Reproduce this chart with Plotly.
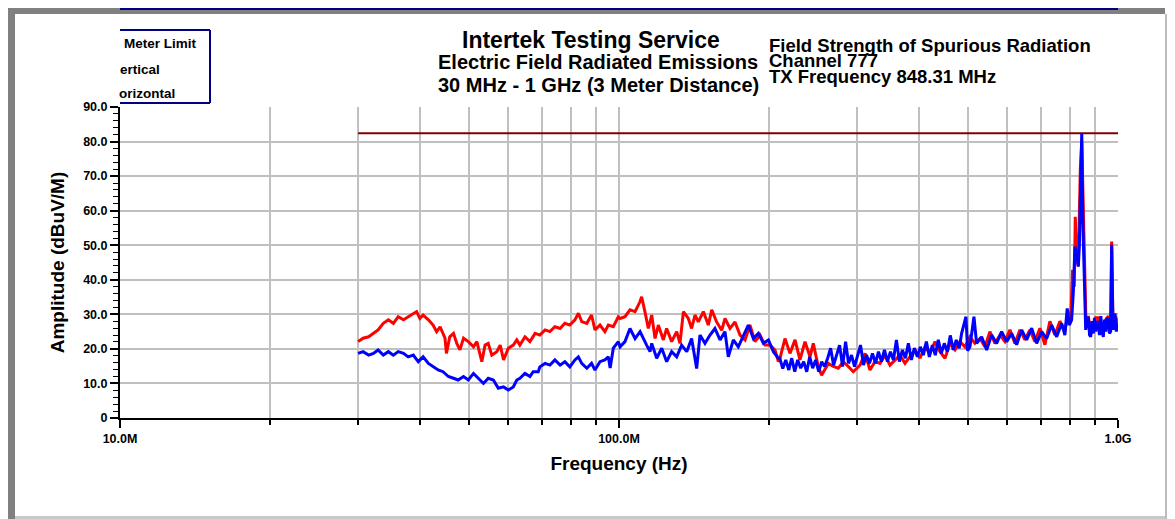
import plotly.graph_objects as go

# ---- data (MHz / dBuV/m) ----
limit_freq_mhz = [30.0, 1000.0]
limit_dbuv = [82.4, 82.4]

vert_freq_mhz = [
    30.0, 30.7, 31.5, 32.2, 32.9, 33.7, 34.5, 35.3, 36.1, 37.0, 37.8, 38.7, 39.3, 39.9, 40.5, 41.5,
    42.4, 43.1, 43.8, 44.8, 45.1, 45.8, 46.6, 47.3, 48.0, 48.8, 49.9, 51.1, 51.9, 53.1, 53.9, 54.7,
    55.6, 56.9, 57.8, 58.7, 60.0, 61.4, 62.4, 63.3, 64.8, 66.3, 67.9, 69.4, 71.1, 72.7, 74.4, 76.2,
    77.9, 79.7, 81.6, 82.9, 84.2, 86.2, 88.1, 89.5, 91.6, 93.7, 95.2, 97.4, 99.7,
    100.5, 102.8, 105.2, 107.7, 110.2, 111.0, 112.7, 114.5, 116.3, 118.1, 119.9, 122.7, 124.6,
    127.5, 130.5, 132.5, 134.6, 137.7, 139.8, 142.0, 144.2, 147.6, 151.0, 153.4, 156.9, 160.6,
    163.1, 166.9, 170.8, 174.8, 178.9, 183.0, 187.3, 191.7, 196.1, 200.7, 205.4, 208.6,
    210.2, 215.1, 220.1, 225.3, 230.5, 235.9, 241.4, 245.1, 250.8, 254.7, 262.7, 268.8, 275.1,
    281.5, 288.1, 294.8, 304.1, 311.2, 318.4, 325.8, 333.4, 341.2, 349.2, 357.3, 365.6, 374.2,
    382.9, 391.9, 401.0, 410.4, 419.9, 429.8, 439.8, 450.1, 460.6, 471.3, 482.3,
    493.5, 505.0, 516.8, 528.9, 541.2, 553.8, 566.7, 580.0, 593.5, 607.3, 621.5, 636.0, 650.8,
    666.0, 681.5, 697.4, 713.7, 730.3, 747.3, 764.8, 782.6, 794.7, 803.4, 811.0, 817.3, 821.1,
    826.2, 832.6, 836.5, 840.4, 846.0, 850.0, 855.0, 858.0, 862.8, 872.0, 882.0, 892.3, 902.0,
    913.2, 924.0, 934.5, 945.0, 956.3, 966.8, 971.2, 977.2, 989.3, 998.4,
]
vert_dbuv = [
    22.1, 23.1, 23.5, 24.5, 25.5, 27.4, 28.4, 27.4, 29.3, 28.4, 29.3, 30.3, 30.8, 28.8, 29.8, 28.4,
    26.9, 25.0, 26.4, 23.1, 18.7, 23.5, 24.5, 21.6, 19.7, 23.1, 22.1, 20.6, 22.1, 16.3, 21.1, 21.6,
    18.2, 19.2, 21.1, 16.8, 20.2, 21.1, 22.6, 21.1, 23.5, 22.1, 24.5, 24.0, 25.5, 25.0, 26.4, 25.9,
    27.4, 26.9, 28.4, 30.3, 27.9, 27.4, 29.8, 25.5, 26.9, 25.0, 26.9, 26.4, 29.3,
    28.8, 29.3, 31.3, 30.8, 33.7, 35.1, 30.8, 25.9, 29.8, 23.0, 26.9, 22.6, 25.9,
    22.1, 25.0, 21.6, 30.8, 28.8, 25.9, 29.8, 27.8, 30.8, 26.9, 31.3, 27.8, 25.4,
    28.8, 25.9, 27.8, 24.0, 22.6, 26.9, 22.1, 24.0, 21.1, 21.1, 19.7, 16.3,
    17.3, 23.0, 18.7, 22.6, 16.8, 22.1, 17.7, 21.6, 14.9, 12.4, 15.8, 14.9, 14.4,
    16.3, 14.9, 13.4, 15.3, 18.7, 13.9, 16.3, 15.8, 18.2, 15.3, 16.8, 18.2, 15.8,
    17.7, 19.7, 17.3, 20.6, 18.7, 22.1, 19.2, 17.3, 21.6, 19.7, 22.1,
    20.6, 23.5, 21.6, 23.0, 20.6, 25.0, 21.6, 24.0, 22.1, 25.5, 21.6, 25.5, 22.6,
    25.5, 22.1, 26.0, 21.2, 28.0, 24.0, 28.0, 25.0, 30.8, 27.4, 42.9, 38.0, 58.2,
    46.6, 44.0, 60.0, 72.0, 80.0, 66.0, 44.3, 38.0, 27.0, 29.5, 24.5, 25.0, 29.0,
    29.0, 24.5, 24.5, 28.5, 29.5, 27.0, 51.1, 27.0, 29.5, 27.0,
]

horz_freq_mhz = [
    30.0, 30.7, 31.5, 32.2, 32.9, 33.7, 34.5, 35.3, 36.1, 37.0, 37.8, 38.7, 39.6, 40.5, 41.5, 42.4,
    43.4, 44.4, 45.5, 46.6, 47.6, 48.8, 49.9, 51.1, 52.3, 53.5, 54.7,
    56.0, 57.3, 58.7, 60.0, 61.4, 62.4, 63.3, 64.8, 66.3, 67.3, 68.9, 69.4, 71.1, 72.7, 74.4,
    76.2, 77.9, 79.7, 81.6, 82.9, 84.2, 86.2, 88.1, 89.5, 91.6, 93.7, 95.2, 96.0, 97.4, 99.7,
    100.5, 102.8, 105.2, 107.7, 110.2, 113.6, 115.4, 116.3, 119.0, 121.8, 124.6, 127.5, 130.5,
    133.5, 136.7, 139.8, 143.1, 145.3, 148.7, 152.2, 155.7, 159.4, 163.1, 165.6, 169.5, 173.4,
    177.5, 181.6, 185.9, 190.3, 194.7, 199.3, 203.9, 208.6,
    210.0, 212.9, 215.9, 218.9, 221.9, 225.0, 228.1, 231.3, 234.5, 237.8,
    241.1, 244.4, 247.8, 251.3, 254.8, 258.3, 261.9, 265.5, 269.2, 272.9,
    276.7, 280.6, 284.5, 288.4, 292.4, 296.5, 300.6, 304.8, 309.0, 313.3,
    317.7, 322.1, 326.6, 331.1, 335.7, 340.4, 345.1, 349.9, 354.8, 359.7,
    364.7, 369.8, 374.9, 380.1, 385.4, 390.8, 396.2, 401.7, 407.3, 413.0,
    418.7, 424.5, 430.4, 436.4, 442.5, 448.6, 454.9, 461.2, 467.6, 474.1, 480.7,
    486.0, 495.8, 499.6, 505.0, 514.4, 520.8, 533.0, 545.5, 558.2, 571.2, 584.5, 598.3, 612.2,
    626.4, 641.1, 656.0, 671.4, 687.1, 703.1, 719.5, 736.3, 753.6, 771.2, 782.6, 791.1, 798.5,
    807.3, 813.5, 819.7, 826.2, 832.6, 836.5, 839.1, 846.0, 850.0, 855.0, 858.0, 861.5, 867.0,
    872.0, 877.0, 881.6, 887.0, 892.3, 897.0, 902.0, 907.0, 913.2, 918.0, 924.0, 929.0, 934.5,
    940.0, 945.0, 950.0, 956.3, 961.0, 966.8, 971.2, 977.2, 981.0, 986.3, 992.0, 998.4,
]
horz_dbuv = [
    18.7, 19.2, 18.2, 18.7, 19.7, 18.2, 19.2, 18.2, 19.2, 18.7, 17.7, 18.2, 16.3, 17.7, 15.8, 14.8,
    13.9, 13.4, 12.0, 11.5, 11.0, 12.0, 11.0, 12.9, 11.5, 10.0, 11.5,
    11.0, 8.6, 9.0, 8.1, 9.0, 11.0, 11.5, 12.9, 12.0, 13.4, 13.4, 14.8, 15.8, 15.3, 16.8,
    15.3, 16.3, 14.8, 16.8, 17.7, 15.8, 14.4, 15.8, 13.9, 16.3, 16.8, 17.7, 14.5, 20.2, 22.1,
    20.6, 22.1, 25.9, 23.0, 25.0, 21.1, 19.2, 21.6, 17.3, 20.2, 16.3, 19.2, 17.7,
    21.1, 19.2, 23.0, 14.3, 24.0, 21.6, 24.0, 25.9, 22.6, 25.0, 17.7, 22.6, 20.6,
    24.0, 26.9, 23.0, 24.5, 21.6, 22.6, 19.2, 17.3,
    17.3, 14.3, 16.8, 13.9, 17.3, 13.4, 16.8, 14.4, 16.3, 13.4,
    17.7, 14.4, 16.8, 13.4, 16.3, 14.9, 17.3, 20.2, 15.3, 18.2,
    21.1, 14.9, 22.1, 15.8, 18.2, 14.9, 17.7, 21.1, 15.3, 18.2,
    15.8, 18.7, 15.8, 19.2, 16.3, 19.7, 16.3, 19.2, 16.8, 22.6,
    16.3, 19.7, 17.3, 21.6, 16.8, 20.2, 17.7, 20.6, 18.2, 22.1,
    17.7, 21.1, 18.2, 22.6, 18.7, 21.6, 19.2, 23.9, 19.7, 22.6, 20.2,
    24.5, 29.3, 19.5, 20.6, 29.3, 21.6, 23.5, 19.7, 24.0, 21.6, 25.0, 22.1, 24.5,
    21.2, 25.5, 22.6, 26.0, 21.6, 25.0, 23.0, 26.9, 23.5, 27.4, 24.0, 31.7, 26.9,
    28.4, 36.1, 49.6, 47.7, 43.8, 49.6, 62.1, 82.4, 57.3, 41.9, 38.0, 25.5, 28.0,
    29.3, 24.0, 23.5, 28.0, 24.5, 29.0, 25.0, 28.0, 27.4, 24.0, 29.5, 25.0, 23.5,
    28.5, 25.0, 29.0, 28.4, 24.5, 25.0, 50.1, 25.5, 28.5, 30.3, 25.0, 27.4,
]

y_tickvals = [0, 10, 20, 30, 40, 50, 60, 70, 80, 90]
y_ticktext = ["0", "10.0", "20.0", "30.0", "40.0", "50.0", "60.0", "70.0", "80.0", "90.0"]
x_tickvals = [10, 100, 1000]
x_ticktext = ["10.0M", "100.0M", "1.0G"]
x_minor = [20, 30, 40, 50, 60, 70, 80, 90, 200, 300, 400, 500, 600, 700, 800, 900]

FONT = "Liberation Sans, Arial, sans-serif"
GRID = "#c0c0c0"

# the page puts the figure 8px in from the top-left corner
OFF = 8
W, H = 1175 - OFF, 519 - OFF
# plot area in screen pixels: x 120..1118, y 107..418
L, R, T, B = 120, 1118, 107, 418


def px(x):
    return (x - L) / (R - L)


def py(y):
    return (B - y) / (B - T)


fig = go.Figure()
fig.add_trace(go.Scatter(x=limit_freq_mhz, y=limit_dbuv, mode="lines",
                         line=dict(color="#800000", width=2), name="3 Meter Limit"))
fig.add_trace(go.Scatter(x=vert_freq_mhz, y=vert_dbuv, mode="lines",
                         line=dict(color="#ff0000", width=3), name="Vertical"))
fig.add_trace(go.Scatter(x=horz_freq_mhz, y=horz_dbuv, mode="lines",
                         line=dict(color="#0000ff", width=3), name="Horizontal"))


def note(text, x, y, size, xanchor="center"):
    fig.add_annotation(text=text, x=px(x), y=py(y), xref="paper", yref="paper",
                       xanchor=xanchor, yanchor="middle", showarrow=False,
                       font=dict(family=FONT, size=size, color="black", weight="bold"))


note("Intertek Testing Service", 591, 40, 23)
note("Electric Field Radiated Emissions", 598, 62, 20)
note("30 MHz - 1 GHz (3 Meter Distance)", 598, 85, 20)
note("Field Strength of Spurious Radiation", 767, 45, 18.5, "left")
note("Channel 777", 767, 61, 18.5, "left")
note("TX Frequency 848.31 MHz", 767, 76, 18.5, "left")

# legend box, clipped on its left side
note("Meter Limit", 122, 43, 13.5, "left")
note("ertical", 118, 69, 13.5, "left")
note("orizontal", 117, 93, 13.5, "left")

shapes = []


def rect(x0, y0, x1, y1, color):
    shapes.append(dict(type="rect", xref="paper", yref="paper", layer="above",
                       x0=px(x0), x1=px(x1), y0=py(y1), y1=py(y0),
                       fillcolor=color, line=dict(width=0)))


def seg(x0, y0, x1, y1, color, width=2):
    shapes.append(dict(type="line", xref="paper", yref="paper", layer="above",
                       x0=px(x0), x1=px(x1), y0=py(y0), y1=py(y1),
                       line=dict(color=color, width=width)))


# window frame
rect(OFF, 8, 1165, 14, "#808080")
rect(OFF, 8, 15, 519, "#808080")
rect(1165, 14, 1173, 519, "#bdbdbd")
rect(15, 516, 1165, 519, "#c8c8c8")
seg(120, 9, 1118, 9, "#000080", 2)
# legend border
seg(120, 30, 210, 30, "#000080", 2)
seg(210, 30, 210, 103, "#000080", 2)
seg(120, 103, 210, 103, "#000080", 2)

tickfont = dict(family=FONT, size=12.5, color="black", weight="bold")
titlefont = dict(family=FONT, size=19, color="black", weight="bold")

fig.update_layout(
    width=W, height=H, autosize=False,
    margin=dict(l=L - OFF, r=W - (R - OFF), t=T - OFF, b=H - (B - OFF)),
    paper_bgcolor="white", plot_bgcolor="white",
    showlegend=False, shapes=shapes,
    xaxis=dict(
        type="log", range=[1, 3], tickvals=x_tickvals, ticktext=x_ticktext,
        showgrid=True, gridcolor=GRID, gridwidth=2,
        showline=True, linecolor="black", linewidth=2,
        ticks="outside", ticklen=8, tickwidth=1.5, tickcolor="black",
        minor=dict(tickvals=x_minor, showgrid=True, gridcolor=GRID, gridwidth=2,
                   ticks="outside", ticklen=5, tickwidth=1.5, tickcolor="black"),
        tickfont=tickfont, zeroline=False,
        title=dict(text="Frequency (Hz)", font=titlefont, standoff=12),
    ),
    yaxis=dict(
        range=[0, 90], tickvals=y_tickvals, ticktext=y_ticktext,
        showgrid=True, gridcolor=GRID, gridwidth=2,
        showline=True, linecolor="black", linewidth=2,
        ticks="outside", ticklen=8, tickwidth=1.5, tickcolor="black",
        minor=dict(dtick=2, ticks="outside", ticklen=5, tickwidth=1, tickcolor="black",
                   showgrid=False),
        tickfont=tickfont, zeroline=False,
        title=dict(text="Amplitude (dBuV/M)", font=titlefont, standoff=14),
    ),
)

fig.write_html("out.html")
